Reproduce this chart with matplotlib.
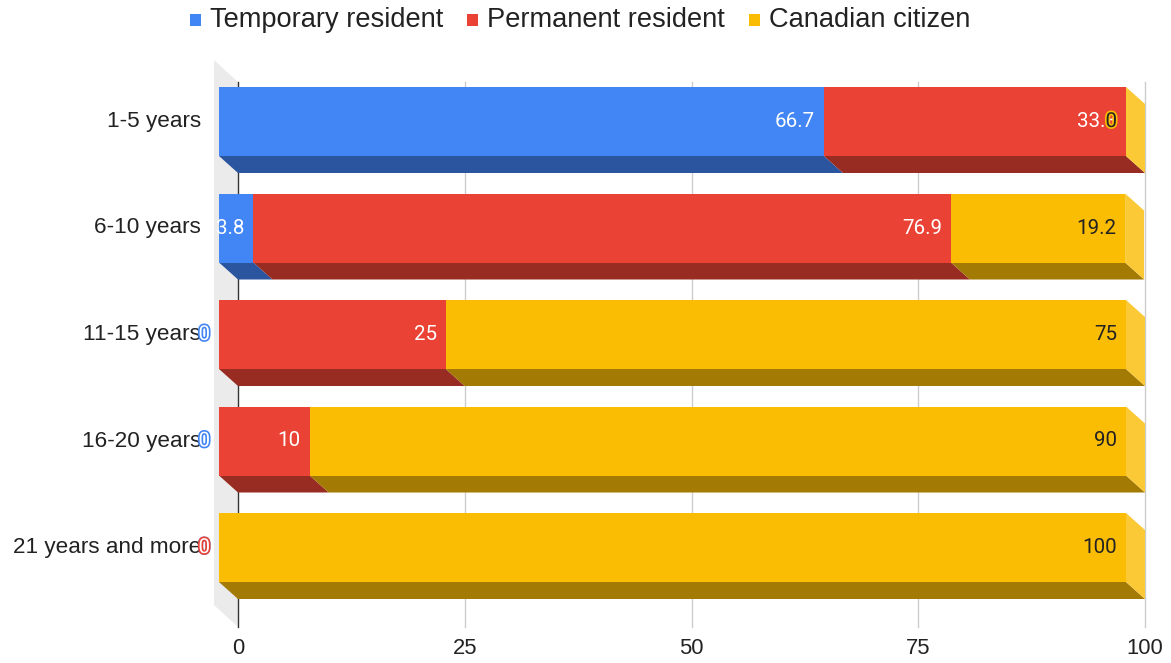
import matplotlib
matplotlib.use('Agg')
import matplotlib.pyplot as plt
from matplotlib.patches import Polygon, Rectangle
import matplotlib.patheffects as pe

# ---------------- data ----------------
categories = ['1-5 years', '6-10 years', '11-15 years', '16-20 years', '21 years and more']
series_names = ['Temporary resident', 'Permanent resident', 'Canadian citizen']
temporary = [66.7, 3.8, 0, 0, 0]
permanent = [33.3, 76.9, 25, 10, 0]
citizen = [0, 19.2, 75, 90, 100]
x_ticks = [0, 25, 50, 75, 100]

front_colors = ['#4285F4', '#EA4335', '#FBBC04']
bottom_colors = ['#2B569F', '#982C22', '#A37A03']
side_colors = ['#6A9DF6', '#EE685D', '#FCC936']
label_colors = ['white', 'white', '#222222']

W, H, DPI = 1171, 663, 100
fig = plt.figure(figsize=(W / DPI, H / DPI), dpi=DPI)
fig.patch.set_facecolor('white')

PITCH = 106.5
top_px = 121.5 - PITCH / 2
bot_px = 121.5 + 4 * PITCH + PITCH / 2
# axes: front plane, x=0 -> 219 px, x=100 -> 1126 px
ax = fig.add_axes([219 / W, (H - bot_px) / H, 907 / W, (bot_px - top_px) / H])
ax.set_xlim(0, 100)
ax.set_ylim(4.5, -0.5)
ax.axis('off')

px_x = 100 / 907.0   # data units per pixel in x
px_y = 1 / PITCH     # data units per pixel in y
DX = 19 * px_x       # depth offset
DY = 17 * px_y
BH = 69 * px_y       # bar (front face) height


def ypx(p):
    return (p - 121.5) * px_y


# back wall
wall_front_x = -5 * px_x
wall = Polygon([(wall_front_x, ypx(60)), (DX, ypx(82)), (DX, ypx(627)), (wall_front_x, ypx(605))],
               closed=True, facecolor='#ebebeb', edgecolor='none', zorder=0, clip_on=False)
ax.add_patch(wall)

# gridlines on back plane
for v in x_ticks:
    ax.plot([v + DX, v + DX], [ypx(82), ypx(627)], color='#333333' if v == 0 else '#cccccc',
            lw=1.0, zorder=1, clip_on=False)
    ax.text(v + DX, ypx(649), str(v), ha='center', va='center', fontsize=15.8,
            family='Liberation Sans', color='#222222', clip_on=False)

data = [temporary, permanent, citizen]

for i, cat in enumerate(categories):
    yc = i
    ytop = yc - BH / 2
    ybot = yc + BH / 2
    left = 0
    segs = []
    for s in range(3):
        v = data[s][i]
        segs.append((left, left + v, s, v))
        left += v
    # bottom faces
    for x0, x1, s, v in segs:
        if v > 0:
            ax.add_patch(Polygon([(x0, ybot), (x1, ybot), (x1 + DX, ybot + DY), (x0 + DX, ybot + DY)],
                                 closed=True, facecolor=bottom_colors[s], edgecolor='none',
                                 zorder=2, clip_on=False))
    # right face (colour of last series)
    xe = left
    last = 2
    ax.add_patch(Polygon([(xe, ytop), (xe + DX, ytop + DY), (xe + DX, ybot + DY), (xe, ybot)],
                         closed=True, facecolor=side_colors[last], edgecolor='none',
                         zorder=2, clip_on=False))
    # front faces
    for x0, x1, s, v in segs:
        if v > 0:
            ax.add_patch(Rectangle((x0, ytop), x1 - x0, BH, facecolor=front_colors[s],
                                   edgecolor='none', zorder=3, clip_on=False))
    # data labels
    for x0, x1, s, v in segs:
        lab = f"{v:g}"
        if v > 0:
            ax.text(x1 - 9 * px_x, yc, lab, ha='right', va='center', fontsize=14.8,
                    family='Roboto', color=label_colors[s], zorder=5, clip_on=False)
        else:
            t = ax.text(x1 - 9 * px_x, yc, lab, ha='right', va='center', fontsize=14.8,
                        family='Roboto', color=label_colors[s], zorder=6, clip_on=False)
            t.set_path_effects([pe.withStroke(linewidth=2.4, foreground=front_colors[s])])
    # category label
    ax.text(-18 * px_x, yc, cat, ha='right', va='center', fontsize=16.2,
            family='Liberation Sans', color='#222222', zorder=4, clip_on=False)

# legend
fig.canvas.draw()
renderer = fig.canvas.get_renderer()
x = 190
yc_leg = 20
for s, name in enumerate(series_names):
    fig.patches.append(Rectangle((x / W, (H - yc_leg - 6) / H), 11 / W, 12 / H,
                                 transform=fig.transFigure, facecolor=front_colors[s],
                                 edgecolor='none'))
    t = fig.text((x + 20) / W, (H - yc_leg) / H, name, ha='left', va='center',
                 fontsize=19.65, family='Liberation Sans', color='#222222')
    bb = t.get_window_extent(renderer)
    x = bb.x1 + 24

fig.savefig('out.png', dpi=DPI, facecolor='white')
